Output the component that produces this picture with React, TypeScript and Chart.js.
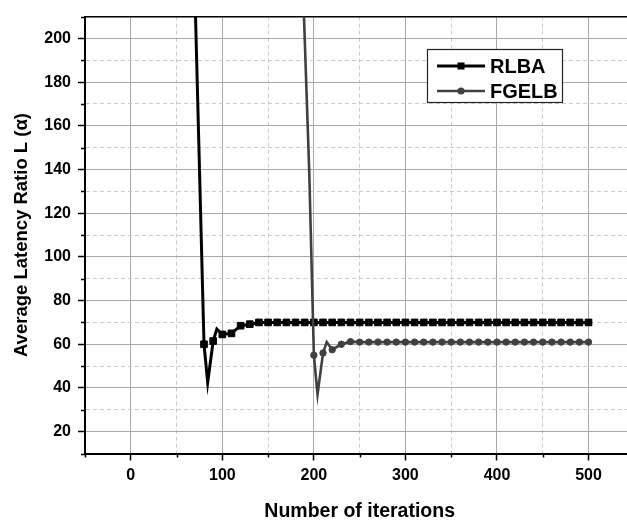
import React, { useEffect, useRef } from "react";
import { Chart, registerables } from "chart.js";

Chart.register(...registerables);

// ---- data ----
const rlbaIterations = [
  70, 80, 84, 90, 94, 100, 110, 120, 130, 140, 150, 160, 170, 180, 190, 200,
  210, 220, 230, 240, 250, 260, 270, 280, 290, 300, 310, 320, 330, 340, 350,
  360, 370, 380, 390, 400, 410, 420, 430, 440, 450, 460, 470, 480, 490, 500,
];
const rlbaValues = [
  222, 60, 42.5, 61.5, 67, 64.5, 65, 68.5, 69.2, 70, 70, 70, 70, 70, 70, 70,
  70, 70, 70, 70, 70, 70, 70, 70, 70, 70, 70, 70, 70, 70, 70,
  70, 70, 70, 70, 70, 70, 70, 70, 70, 70, 70, 70, 70, 70, 70,
];
const fgelbIterations = [
  180, 190, 195, 200, 204, 210, 214, 220, 230, 240, 250, 260, 270, 280, 290,
  300, 310, 320, 330, 340, 350, 360, 370, 380, 390, 400, 410, 420, 430, 440,
  450, 460, 470, 480, 490, 500,
];
const fgelbValues = [
  325, 200, 138, 55, 37, 56, 61, 57.5, 60, 61.2, 61, 61, 61, 61, 61,
  61, 61, 61, 61, 61, 61, 61, 61, 61, 61, 61, 61, 61, 61, 61,
  61, 61, 61, 61, 61, 61,
];
const seriesLabels = ["RLBA", "FGELB"];
const xTickLabels = [0, 100, 200, 300, 400, 500];
const yTickLabels = [20, 40, 60, 80, 100, 120, 140, 160, 180, 200];
const xTitle = "Number of iterations";
const yTitle = "Average Latency Ratio L (\u03b1)";

const FONT = "'Liberation Sans', Arial, Helvetica, sans-serif";

function markerRadius(from: number, r: number) {
  return (c: any) => {
    const p = c.raw as { x: number } | undefined;
    return p && p.x >= from && p.x % 10 === 0 ? r : 0;
  };
}

const extrasPlugin = {
  id: "extras",
  afterDraw(chart: any) {
    const { ctx, chartArea } = chart;
    const xs = chart.scales.x;
    const ys = chart.scales.y;
    ctx.save();
    // minor tick marks
    ctx.strokeStyle = "#000";
    ctx.lineWidth = 1.5;
    ctx.beginPath();
    xs.ticks.forEach((t: any) => {
      if (!xTickLabels.includes(t.value)) {
        const px = Math.round(xs.getPixelForValue(t.value)) + 0.5;
        ctx.moveTo(px, chartArea.bottom);
        ctx.lineTo(px, chartArea.bottom + 4);
      }
    });
    ys.ticks.forEach((t: any) => {
      if (!yTickLabels.includes(t.value)) {
        const py = Math.round(ys.getPixelForValue(t.value)) + 0.5;
        ctx.moveTo(chartArea.left - 4, py);
        ctx.lineTo(chartArea.left, py);
      }
    });
    ctx.stroke();

    // legend box
    const bx = 427.5, by = 49.5, bw = 135, bh = 53;
    ctx.fillStyle = "#fff";
    ctx.fillRect(bx, by, bw, bh);
    ctx.strokeStyle = "#222";
    ctx.lineWidth = 1.2;
    ctx.strokeRect(bx, by, bw, bh);
    const rows = [66, 91];
    chart.data.datasets.forEach((ds: any, i: number) => {
      const y = rows[i];
      ctx.strokeStyle = ds.borderColor;
      ctx.lineWidth = ds.borderWidth;
      ctx.beginPath();
      ctx.moveTo(437, y);
      ctx.lineTo(485, y);
      ctx.stroke();
      ctx.fillStyle = ds.pointBackgroundColor;
      if (ds.pointStyle === "rect") {
        ctx.fillRect(461 - 3.5, y - 3.5, 7, 7);
      } else {
        ctx.beginPath();
        ctx.arc(461, y, 3.6, 0, Math.PI * 2);
        ctx.fill();
      }
      ctx.fillStyle = "#000";
      ctx.font = `bold 20px ${FONT}`;
      ctx.textAlign = "left";
      ctx.textBaseline = "middle";
      ctx.fillText(ds.label, 490, y + 1);
    });
    ctx.restore();
  },
};

export default function App() {
  const ref = useRef<HTMLCanvasElement>(null);

  useEffect(() => {
    document.body.style.margin = "0";
    const canvas = ref.current;
    if (!canvas) return;

    const tickFont = { family: FONT, size: 16, weight: "bold" as const };
    const xTitleFont = { family: FONT, size: 19.5, weight: "bold" as const, lineHeight: 1 };
    const yTitleFont = { family: FONT, size: 18.5, weight: "bold" as const, lineHeight: 1 };

    const chart = new Chart(canvas, {
      type: "line",
      data: {
        datasets: [
          {
            label: seriesLabels[0],
            data: rlbaIterations.map((x, i) => ({ x, y: rlbaValues[i] })),
            borderColor: "#000000",
            backgroundColor: "#000000",
            pointBackgroundColor: "#000000",
            pointBorderColor: "#000000",
            borderWidth: 3,
            pointStyle: "rect",
            pointRadius: markerRadius(80, 4.7) as any,
            pointBorderWidth: 1,
            tension: 0,
            clip: 0 as any,
            order: 1,
          },
          {
            label: seriesLabels[1],
            data: fgelbIterations.map((x, i) => ({ x, y: fgelbValues[i] })),
            borderColor: "#404040",
            backgroundColor: "#404040",
            pointBackgroundColor: "#404040",
            pointBorderColor: "#404040",
            borderWidth: 2.6,
            pointStyle: "circle",
            pointRadius: markerRadius(200, 3.2) as any,
            pointBorderWidth: 1,
            tension: 0,
            clip: 0 as any,
            order: 0,
          },
        ],
      },
      options: {
        responsive: false,
        animation: false,
        events: [],
        layout: { padding: { top: 9, right: 4, left: 0, bottom: 0 } },
        plugins: {
          legend: { display: false },
          tooltip: { enabled: false },
        },
        scales: {
          x: {
            type: "linear",
            min: -50,
            max: 550,
            afterFit: (s: any) => {
              s.height = 67.5;
            },
            ticks: {
              stepSize: 50,
              autoSkip: false,
              maxRotation: 0,
              minRotation: 0,
              padding: 5,
              color: "#000",
              font: tickFont,
              callback: (v: any) => (xTickLabels.includes(Number(v)) ? String(v) : ""),
            },
            grid: {
              color: (c: any) => {
                const v = c.tick?.value;
                if (v === undefined || v <= -50 || v >= 550) return "rgba(0,0,0,0)";
                return xTickLabels.includes(v) ? "#a8a8a8" : "#cccccc";
              },
              lineWidth: 1,
              tickColor: (c: any) =>
                c.tick && xTickLabels.includes(c.tick.value) ? "#000" : "rgba(0,0,0,0)",
              tickLength: 7,
              tickWidth: 1.5,
            },
            border: {
              display: true,
              color: "#000",
              width: 2,
              dash: (c: any) =>
                c.tick && !xTickLabels.includes(c.tick.value) ? [4, 3] : [],
            } as any,
            title: {
              display: true,
              text: xTitle,
              color: "#000",
              font: xTitleFont,
              padding: { top: 0, bottom: 0 },
            },
          },
          y: {
            type: "linear",
            min: 10,
            max: 210,
            afterFit: (s: any) => {
              s.width = 85;
            },
            ticks: {
              stepSize: 10,
              autoSkip: false,
              padding: 7,
              color: "#000",
              font: tickFont,
              callback: (v: any) => (yTickLabels.includes(Number(v)) ? String(v) : ""),
            },
            grid: {
              color: (c: any) => {
                const v = c.tick?.value;
                if (v === undefined || v <= 10) return "rgba(0,0,0,0)";
                if (v >= 210) return "#000";
                return yTickLabels.includes(v) ? "#a8a8a8" : "#cccccc";
              },
              lineWidth: (c: any) => (c.tick && c.tick.value >= 210 ? 1.5 : 1),
              tickColor: (c: any) =>
                c.tick && yTickLabels.includes(c.tick.value) ? "#000" : "rgba(0,0,0,0)",
              tickLength: 7,
              tickWidth: 1.5,
            },
            border: {
              display: true,
              color: "#000",
              width: 2,
              dash: (c: any) =>
                c.tick && !yTickLabels.includes(c.tick.value) && c.tick.value < 210
                  ? [4, 3]
                  : [],
            } as any,
            title: {
              display: true,
              text: yTitle,
              color: "#000",
              font: yTitleFont,
              padding: { top: 13, bottom: 0 },
            },
          },
        },
      },
      plugins: [extrasPlugin],
    });

    return () => chart.destroy();
  }, []);

  return (
    <div style={{ width: 627, height: 521, overflow: "hidden", position: "relative" }}>
      <canvas ref={ref} width={640} height={521} style={{ display: "block" }} />
    </div>
  );
}
